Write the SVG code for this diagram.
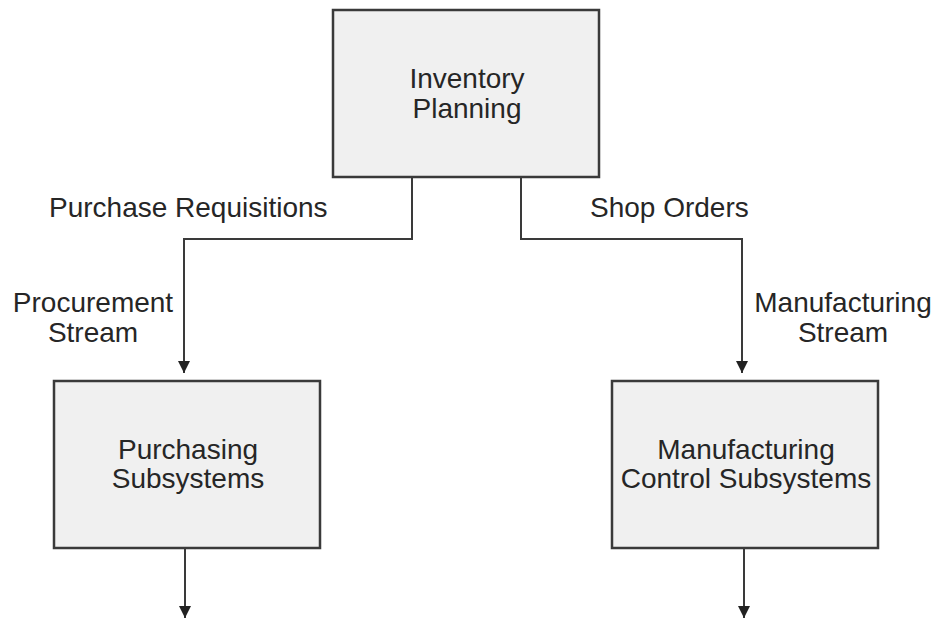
<svg xmlns="http://www.w3.org/2000/svg" width="935" height="624" viewBox="0 0 935 624">
  <defs>
    <marker id="arrow" viewBox="0 0 12 14" refX="12" refY="7" markerWidth="13" markerHeight="14" markerUnits="userSpaceOnUse" orient="auto">
      <path d="M0,1 L12,7 L0,13 Z" fill="#222222"/>
    </marker>
  </defs>
  <style>
    .box { fill: #f0f0f0; stroke: #3a3a3a; stroke-width: 2.5; }
    .lbl { font-family: "Liberation Sans", Arial, sans-serif; font-size: 28px; fill: #262626; }
    .mid { text-anchor: middle; }
    .wire { fill: none; stroke: #3a3a3a; stroke-width: 2; }
  </style>
  <rect width="935" height="624" fill="#ffffff"/>

  <g id="connectors">
    <polyline class="wire" points="412,178 412,239 184,239 184,373" marker-end="url(#arrow)"/>
    <polyline class="wire" points="521,178 521,239 742,239 742,373" marker-end="url(#arrow)"/>
    <line class="wire" x1="185" y1="549" x2="185" y2="618" marker-end="url(#arrow)"/>
    <line class="wire" x1="744" y1="549" x2="744" y2="618" marker-end="url(#arrow)"/>
    <text class="lbl" x="49" y="217">Purchase Requisitions</text>
    <text class="lbl" x="590" y="217">Shop Orders</text>
    <text class="lbl mid" x="93" y="312">Procurement</text>
    <text class="lbl mid" x="93" y="342">Stream</text>
    <text class="lbl mid" x="843" y="312">Manufacturing</text>
    <text class="lbl mid" x="843" y="342">Stream</text>
  </g>

  <g id="inventory-planning">
    <rect class="box" x="333" y="10" width="266" height="167"/>
    <text class="lbl mid" x="467" y="88">Inventory</text>
    <text class="lbl mid" x="467" y="118">Planning</text>
  </g>

  <g id="purchasing-subsystems">
    <rect class="box" x="54" y="381" width="266" height="167"/>
    <text class="lbl mid" x="188" y="459">Purchasing</text>
    <text class="lbl mid" x="188" y="488">Subsystems</text>
  </g>

  <g id="manufacturing-control-subsystems">
    <rect class="box" x="612" y="381" width="266" height="167"/>
    <text class="lbl mid" x="746" y="459">Manufacturing</text>
    <text class="lbl mid" x="746" y="488">Control Subsystems</text>
  </g>
</svg>
